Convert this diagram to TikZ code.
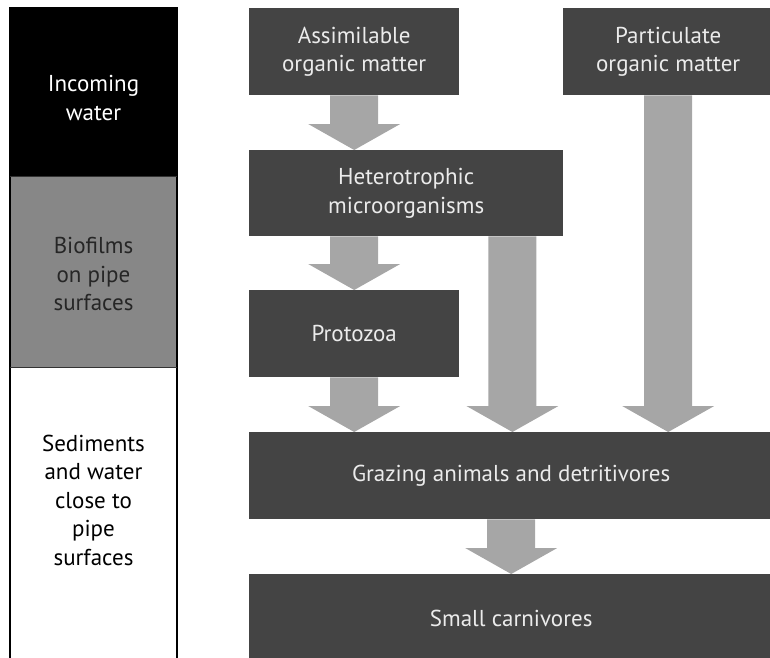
\documentclass[tikz,border=0pt]{standalone}
\usepackage{fontspec}
\setmainfont{PT Sans}
\usetikzlibrary{calc,positioning}

\definecolor{boxgrey}{HTML}{444444}
\definecolor{arrowgrey}{HTML}{A6A6A6}
\definecolor{filmgrey}{HTML}{878787}

\begin{document}
\begin{tikzpicture}[x=1pt,y=-1pt,
        stage/.style={fill=boxgrey,text=white!92!black,align=center,
            font=\fontsize{23}{28.5}\selectfont,inner sep=0pt,anchor=north west},
        zonelabel/.style={align=center,font=\fontsize{23}{28.5}\selectfont},
        fat/.style={fill=arrowgrey,to path={
            let \p1=(\tikztostart), \p2=(\tikztotarget) in
            (\x1-24pt,\y1) -- (\x1-24pt,\y2+26pt) -- (\x1-46pt,\y2+26pt)
            -- (\x1,\y2) -- (\x1+46pt,\y2+26pt) -- (\x1+24pt,\y2+26pt)
            -- (\x1+24pt,\y1) -- cycle}}
    ]
    \useasboundingbox (0,0) rectangle (770,657);
    \clip (0,0) rectangle (770,657);

    % zones of the pipe
    \fill[black] (10,8) rectangle (177,176);
    \fill[filmgrey] (10,176) rectangle (177,367);
    \draw[line width=1.2pt] (10,665) -- (10,8) -- (177,8) -- (177,665);
    \draw[line width=1pt,black!80] (10,176) -- (177,176)
        (10,367) -- (177,367);
    \node[zonelabel,text=white] (inw) at (93.5,98) {Incoming\\water};
    \node[zonelabel,text=black!85] (bio) at (93.5,274) {Biofilms\\on pipe\\surfaces};
    \node[zonelabel,text=black] (sed) at (93.5,500) {Sediments\\and water\\close to\\pipe\\surfaces};

    % food chain
    \node[stage,minimum width=210pt,minimum height=87pt] (amo) at (249,8) {Assimilable\\organic matter};
    \node[stage,minimum width=210pt,minimum height=87pt] (pom) at (563,8) {Particulate\\organic matter};
    \node[stage,minimum width=314pt,minimum height=86pt] (het) at (249,150) {Heterotrophic\\microorganisms};
    \node[stage,minimum width=210pt,minimum height=87pt] (pro) at (249,290) {Protozoa};
    \node[stage,minimum width=524pt,minimum height=87pt] (gra) at (249,432) {Grazing animals and detritivores};
    \node[stage,minimum width=524pt,minimum height=88pt] (sca) at (249,574) {Small carnivores};

    \coordinate (hetout) at ([xshift=-51pt]het.south east);
    \path[fat] (amo.south) to (amo.south |- het.north);
    \path[fat] (pro.north |- het.south) to (pro.north);
    \path[fat] (pro.south) to (pro.south |- gra.north);
    \path[fat] (hetout) to (hetout |- gra.north);
    \path[fat] (pom.south) to (pom.south |- gra.north);
    \path[fat] (gra.south) to (gra.south |- sca.north);
\end{tikzpicture}
\end{document}
